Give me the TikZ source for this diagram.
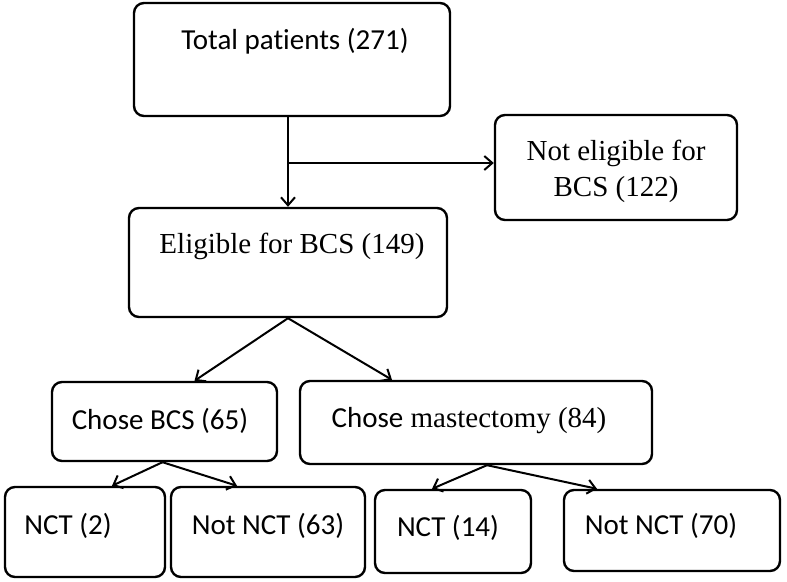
\documentclass[tikz,border=0pt]{standalone}
\usepackage{fontspec}
\setmainfont{Liberation Serif}
\newfontfamily\calibri[Ligatures=NoCommon]{Carlito}
\usetikzlibrary{arrows.meta,calc}
\tikzset{
    box/.style={draw,line width=2.4pt,rounded corners=10pt,inner sep=0pt},
    txt/.style={inner sep=0pt,align=center,font=\fontsize{29}{36}\selectfont},
    arr/.style={line width=2pt,-{Straight Barb[length=8pt,width=14pt,line width=2pt]}}
}

\begin{document}
\begin{tikzpicture}[x=1pt,y=-1pt]
    \useasboundingbox (0,0) rectangle (787,581);
    % boxes
    \node[box,minimum width=316,minimum height=113] (total) at (292,59.5) {};
    \node[box,minimum width=242,minimum height=105] (noelig) at (616,167.5) {};
    \node[box,minimum width=318,minimum height=109] (elig) at (288,262.5) {};
    \node[box,minimum width=225,minimum height=79] (cbcs) at (164.5,421.5) {};
    \node[box,minimum width=352,minimum height=83] (cmast) at (476,422.5) {};
    \node[box,minimum width=160,minimum height=90] (nctA) at (85,532) {};
    \node[box,minimum width=194,minimum height=90] (notnctA) at (268,532) {};
    \node[box,minimum width=156,minimum height=83] (nctB) at (453,531.5) {};
    \node[box,minimum width=216,minimum height=81] (notnctB) at (672,530.5) {};
    % texts
    \node[txt] (totaltxt) at (295,41) {\calibri Total patients (271)};
    \node[txt] (noeligtxt) at (616,171) {Not eligible for\\BCS (122)};
    \node[txt] (eligtxt) at (292,246) {Eligible for BCS (149)};
    \node[txt] (cbcstxt) at (160,421) {\calibri Chose BCS (65)};
    \node[txt] (cmasttxt) at (469,421) {{\calibri Chose} mastectomy (84)};
    \node[txt] (nctAtxt) at (68,526) {\calibri NCT (2)};
    \node[txt] (notnctAtxt) at (268,526) {\calibri Not NCT (63)};
    \node[txt] (nctBtxt) at (448,528) {\calibri NCT (14)};
    \node[txt] (notnctBtxt) at (661,526) {\calibri Not NCT (70)};
    % connectors
    \coordinate (split) at (288,163);
    \draw[line width=2pt] (total.south -| split) -- (split);
    \draw[arr] (split) -- (elig.north -| split);
    \draw[arr] (split) -- (split -| noelig.west);
    \draw[arr] (elig.south) -- ($(cbcs.north)+(30,0)$);
    \draw[arr] (elig.south) -- ($(cmast.north)+(-84,0)$);
    \draw[arr] ($(cbcs.south)+(-2,0)$) -- ($(nctA.north)+(27,0)$);
    \draw[arr] ($(cbcs.south)+(-2,0)$) -- ($(notnctA.north)+(-31,0)$);
    \draw[arr] ($(cmast.south)+(11,0)$) -- ($(nctB.north)+(-21,0)$);
    \draw[arr] ($(cmast.south)+(11,0)$) -- ($(notnctB.north)+(-75,0)$);
\end{tikzpicture}
\end{document}
